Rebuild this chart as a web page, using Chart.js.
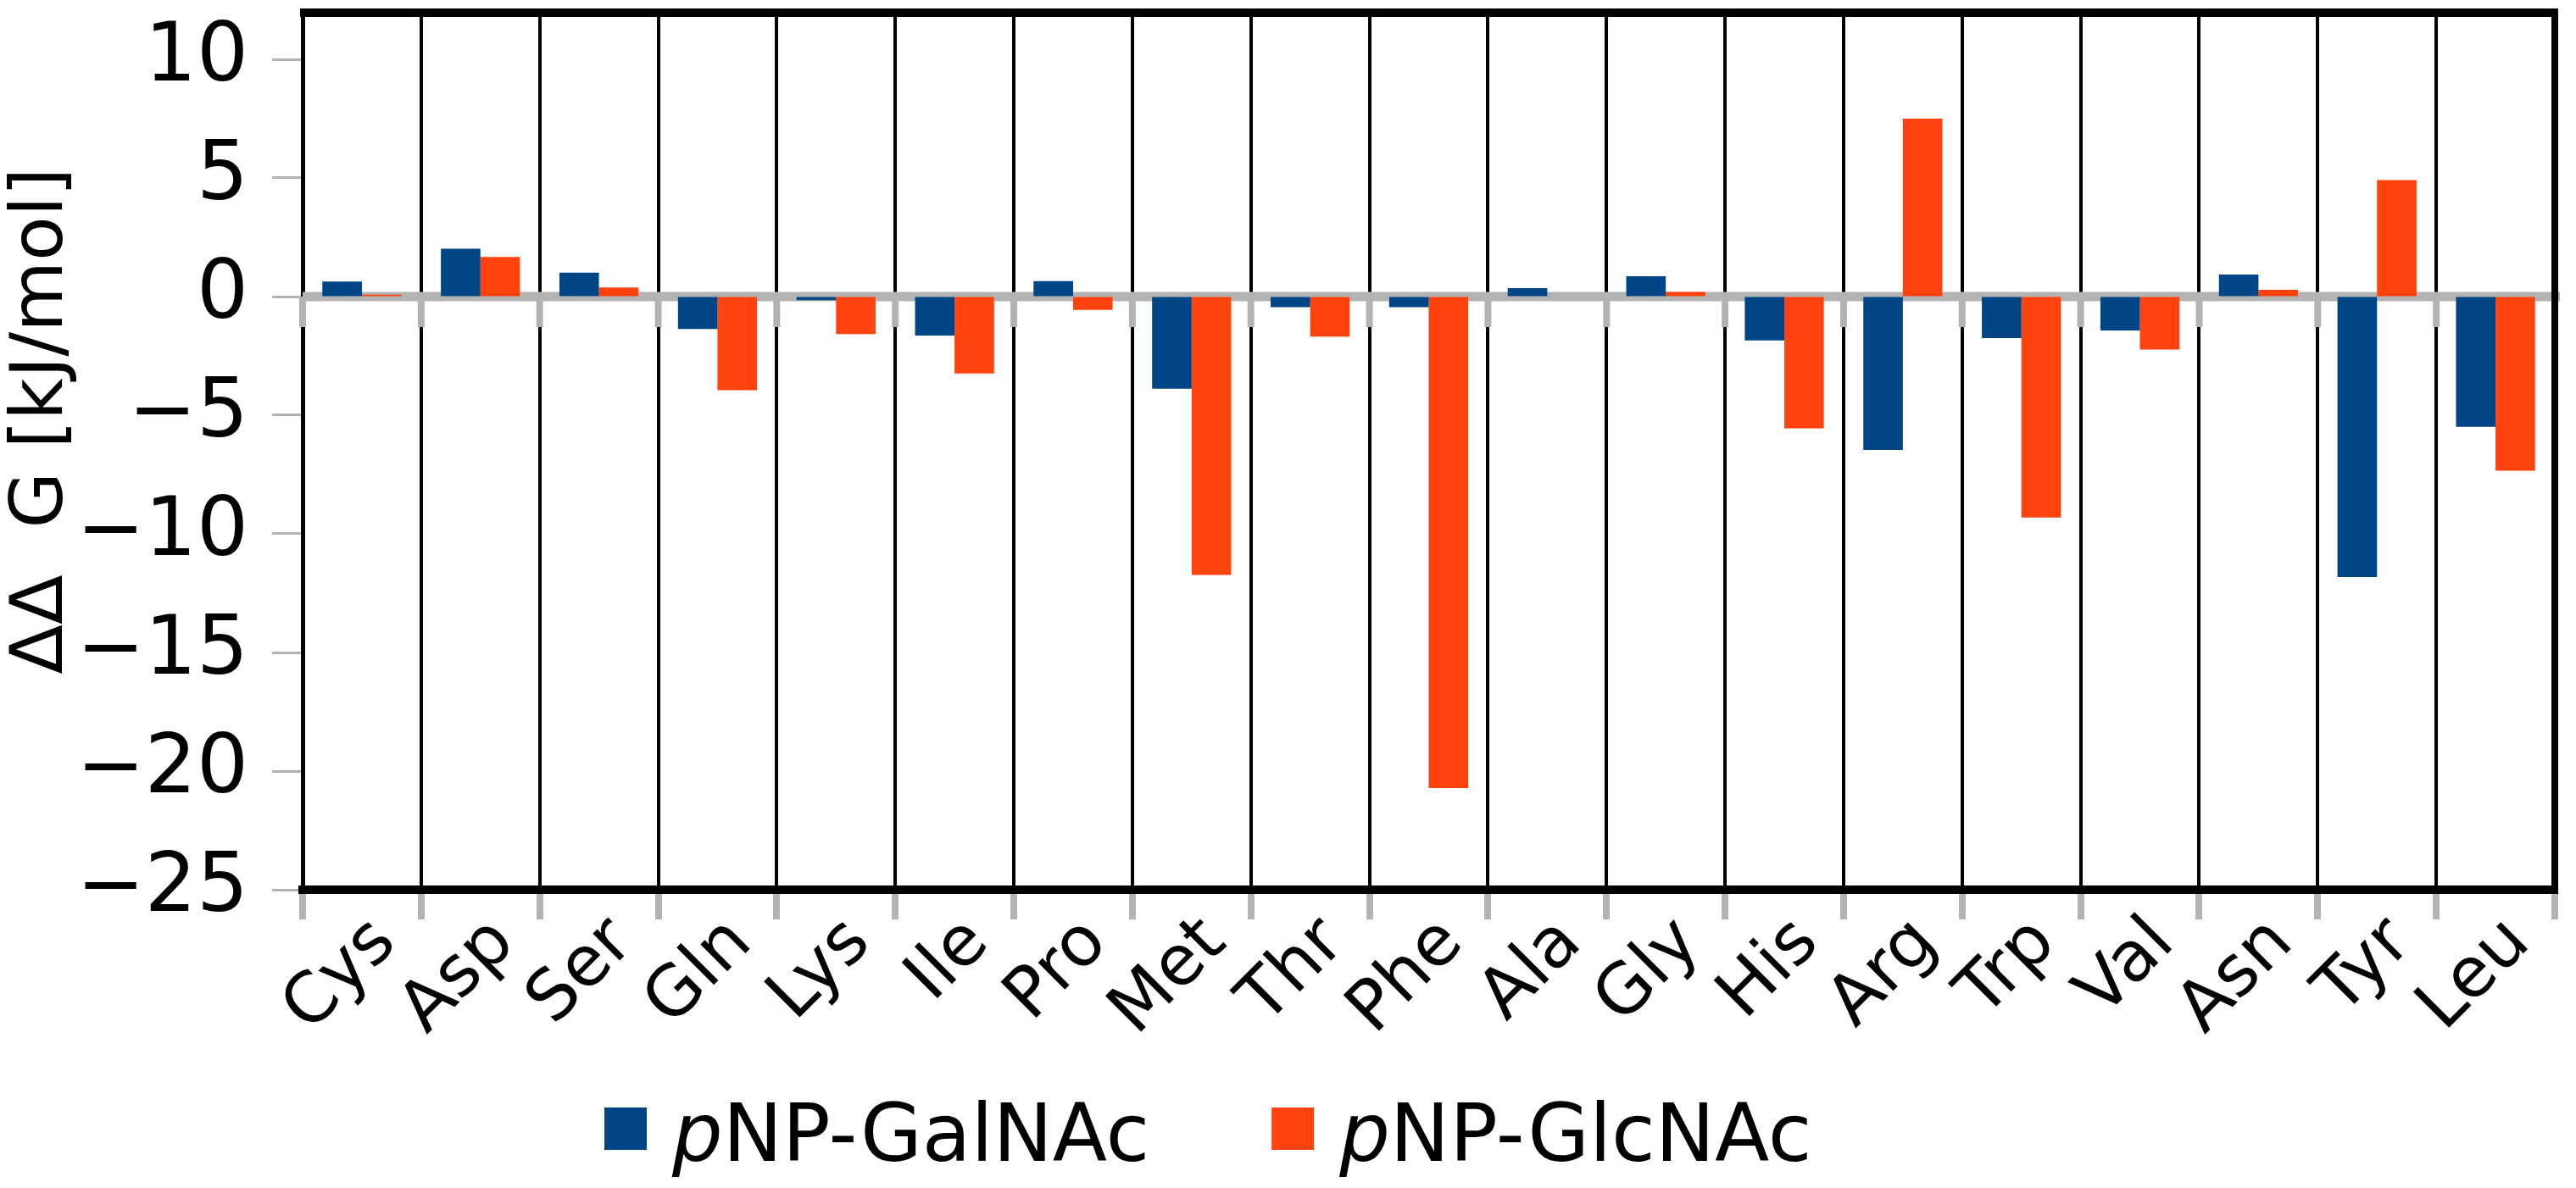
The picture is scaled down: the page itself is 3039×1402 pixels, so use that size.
<!DOCTYPE html>
<html lang="en">
<head>
<meta charset="UTF-8" />
<title>ΔΔG por resíduo</title>
<script src="https://cdn.jsdelivr.net/npm/chart.js"></script>
<style>
  html, body { margin: 0; padding: 0; background: #ffffff; }
  canvas { display: block; }
</style>
</head>
<body>
<canvas id="grafico" width="3039" height="1402"></canvas>
<script>
// dados (kJ/mol)
const residuos = ["Cys", "Asp", "Ser", "Gln", "Lys", "Ile", "Pro", "Met", "Thr", "Phe",
                  "Ala", "Gly", "His", "Arg", "Trp", "Val", "Asn", "Tyr", "Leu"];
const galnac = [0.63, 2.02, 1.01, -1.37, -0.15, -1.64, 0.65, -3.88, -0.45, -0.45,
                0.36, 0.86, -1.85, -6.46, -1.75, -1.43, 0.93, -11.82, -5.49];
const glcnac = [0.08, 1.67, 0.38, -3.95, -1.58, -3.24, -0.56, -11.73, -1.69, -20.71,
                0, 0.2, -5.55, 7.5, -9.31, -2.23, 0.29, 4.91, -7.34];
const series = ["pNP-GalNAc", "pNP-GlcNAc"];
const ticksY = [-25, -20, -15, -10, -5, 0, 5, 10];

const AZUL = "#004586";
const LARANJA = "#ff420e";
const CINZA = "#b3b3b3";
const FONTE = "'DejaVu Sans', sans-serif";

// linha cinza do zero com os tracinhos entre categorias
const eixoZero = {
  id: "eixoZero",
  beforeDatasetsDraw(chart) {
    const { ctx, chartArea, scales } = chart;
    const y0 = scales.y.getPixelForValue(0);
    const passo = scales.x.getPixelForValue(1) - scales.x.getPixelForValue(0);
    const x0 = scales.x.getPixelForValue(0) - passo / 2;
    ctx.save();
    ctx.strokeStyle = CINZA;
    ctx.lineWidth = 11;
    ctx.beginPath();
    ctx.moveTo(chartArea.left, y0);
    ctx.lineTo(chartArea.right + 6, y0);
    ctx.stroke();
    ctx.lineWidth = 8;
    for (let i = 0; i <= residuos.length; i++) {
      const x = x0 + i * passo;
      ctx.beginPath();
      ctx.moveTo(x, y0);
      ctx.lineTo(x, y0 + 36);
      ctx.stroke();
    }
    ctx.restore();
  }
};

// moldura de cima e da direita
const moldura = {
  id: "moldura",
  afterDraw(chart) {
    const { ctx, chartArea } = chart;
    ctx.save();
    ctx.strokeStyle = "#000";
    ctx.lineWidth = 10;
    ctx.beginPath();
    ctx.moveTo(chartArea.left - 3, chartArea.top + 1);
    ctx.lineTo(chartArea.right + 4, chartArea.top + 1);
    ctx.stroke();
    ctx.lineWidth = 8;
    ctx.beginPath();
    ctx.moveTo(chartArea.right, chartArea.top);
    ctx.lineTo(chartArea.right, chartArea.bottom + 5);
    ctx.stroke();
    ctx.restore();
  }
};

// legenda com o "p" em itálico
const legenda = {
  id: "legenda",
  afterDraw(chart) {
    const { ctx } = chart;
    const tam = 94;
    const base = 1370;
    let x = 713;
    ctx.save();
    ctx.textBaseline = "alphabetic";
    chart.data.datasets.forEach((ds) => {
      ctx.fillStyle = ds.backgroundColor;
      ctx.fillRect(x, 1307, 50, 50);
      x += 80;
      ctx.fillStyle = "#000";
      const ital = ds.label.slice(0, 1);
      const resto = ds.label.slice(1);
      ctx.font = "italic " + tam + "px " + FONTE;
      ctx.fillText(ital, x, base);
      x += ctx.measureText(ital).width;
      ctx.font = tam + "px " + FONTE;
      ctx.fillText(resto, x, base);
      x += ctx.measureText(resto).width + 144;
    });
    ctx.restore();
  }
};

new Chart(document.getElementById("grafico"), {
  type: "bar",
  data: {
    labels: residuos,
    datasets: [
      { label: series[0], data: galnac, backgroundColor: AZUL },
      { label: series[1], data: glcnac, backgroundColor: LARANJA }
    ]
  },
  options: {
    responsive: false,
    animation: false,
    devicePixelRatio: 1,
    categoryPercentage: 0.667,
    barPercentage: 1.0,
    layout: { padding: { top: 14, right: 25, bottom: 0, left: 0 } },
    plugins: {
      legend: { display: false },
      tooltip: { enabled: false }
    },
    scales: {
      x: {
        offset: true,
        grid: {
          offset: true,
          color: "#000",
          lineWidth: 4,
          tickColor: CINZA,
          tickWidth: 8,
          tickLength: 35
        },
        border: { color: "#000", width: 10 },
        ticks: {
          autoSkip: false,
          minRotation: 45,
          maxRotation: 45,
          padding: -20,
          labelOffset: 28,
          color: "#000",
          font: { family: FONTE, size: 82 }
        },
        afterFit: (s) => {
          s.height = 352;
          s.paddingLeft = 0;
          s.paddingRight = 0;
        }
      },
      y: {
        min: -25,
        max: 12,
        afterBuildTicks: (s) => {
          s.ticks = ticksY.map((v) => ({ value: v }));
        },
        grid: {
          drawOnChartArea: false,
          tickColor: CINZA,
          tickWidth: 3,
          tickLength: 36
        },
        border: { color: "#000", width: 5 },
        ticks: {
          padding: 28,
          color: "#000",
          font: { family: FONTE, size: 96 },
          callback: (v) => (v < 0 ? "\u2212" + Math.abs(v) : String(v))
        },
        title: {
          display: true,
          // espaços no início sobem o texto um pouco, como no original
          text: "\u2002 ΔΔ  G [kJ/mol]",
          color: "#000",
          font: { family: FONTE, size: 86, lineHeight: 1 },
          padding: { top: 8, bottom: 0 }
        },
        afterFit: (s) => {
          s.width = 357;
          s.paddingTop = 0;
          s.paddingBottom = 0;
        }
      }
    }
  },
  plugins: [eixoZero, moldura, legenda]
});
</script>
</body>
</html>
